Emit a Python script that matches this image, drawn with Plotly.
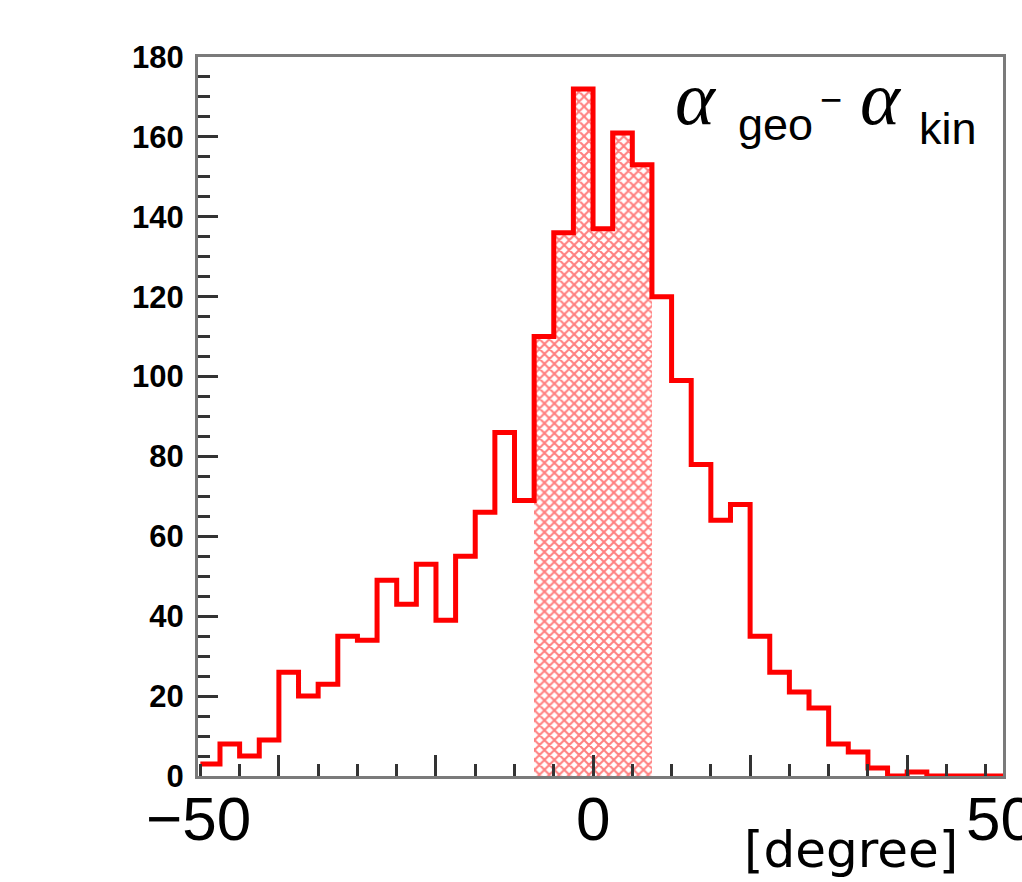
import plotly.graph_objects as go

# Histogram data: bins of width 2.5 degrees starting at -50
bin_start = -50.0
bin_width = 2.5
counts = [3, 8, 5, 9, 26, 20, 23, 35, 34, 49, 43, 53, 39, 55, 66, 86, 69,
          110, 136, 172, 137, 161, 153, 120, 99, 78, 64, 68, 35, 26, 21, 17,
          8, 6, 2, 0, 1, 0, 0, 0, 0]
hatch_lo, hatch_hi = -7.5, 7.5   # hatched (selected) region

x_labels = ["\u221250", "0", "50"]
x_label_vals = [-50, 0, 50]
y_ticks = [0, 20, 40, 60, 80, 100, 120, 140, 160, 180]

edges = [bin_start + i * bin_width for i in range(len(counts) + 1)]
centers = [bin_start + (i + 0.5) * bin_width for i in range(len(counts))]

# plot area in pixels
L, R, T, B = 198, 1003, 57, 776
W, H = 1022, 882
xr = [-50.3, 52.2]

def px(xp):
    return (xp - L) / (R - L)

def py(yp):
    return (B - yp) / (B - T)

fig = go.Figure()

hx = [c for c in centers if hatch_lo < c < hatch_hi]
hy = [counts[i] for i, c in enumerate(centers) if hatch_lo < c < hatch_hi]
fig.add_trace(go.Bar(
    x=hx, y=hy, width=bin_width,
    marker=dict(color="white", line=dict(width=0),
                pattern=dict(shape="x", fgcolor="#ff0000", bgcolor="white",
                             size=7, solidity=0.5)),
    showlegend=False, hoverinfo="skip"))

fig.add_trace(go.Scatter(
    x=edges, y=counts + [counts[-1]], mode="lines",
    line=dict(color="#ff0000", width=5, shape="hv"),
    showlegend=False))

axis_common = dict(showgrid=False, zeroline=False, showline=True, mirror=True,
                   linecolor="#7a7a7a", linewidth=3, ticks="inside",
                   tickcolor="#333333", tickwidth=3)

fig.update_xaxes(range=xr, tick0=0, dtick=20, ticklen=21, showticklabels=False,
                 minor=dict(dtick=5, tick0=0, ticks="inside", ticklen=12,
                            tickwidth=3, tickcolor="#333333"),
                 **axis_common)
fig.update_yaxes(range=[0, 180], tickvals=y_ticks, ticklen=20,
                 tickfont=dict(family="Liberation Sans", size=31, color="black",
                               weight="bold"),
                 ticklabelstandoff=5,
                 minor=dict(dtick=5, tick0=0, ticks="inside", ticklen=12,
                            tickwidth=3, tickcolor="#333333"),
                 **axis_common)

ann = []
num_font = dict(family="Liberation Sans", size=62, color="black")
x_label_px = [198, 593, 1000]
for t, xp in zip(x_labels, x_label_px):
    ann.append(dict(text=t, x=px(xp), y=py(818), xref="paper", yref="paper",
                    showarrow=False, xanchor="center", yanchor="middle", font=num_font))
ann.append(dict(text="[degree]", x=px(851), y=py(850), xref="paper", yref="paper",
                showarrow=False, xanchor="center", yanchor="middle",
                font=dict(family="DejaVu Sans", size=50, color="black")))

alpha_font = dict(family="Liberation Serif", size=76, color="black", style="italic")
sub_font = dict(family="Liberation Sans", size=45, color="black")
ann.append(dict(text="\u03b1", x=px(696), y=py(98), xref="paper", yref="paper",
                showarrow=False, xanchor="center", yanchor="middle", font=alpha_font))
ann.append(dict(text="geo", x=px(775), y=py(125), xref="paper", yref="paper",
                showarrow=False, xanchor="center", yanchor="middle", font=sub_font))
ann.append(dict(text="\u2212", x=px(831), y=py(100), xref="paper", yref="paper",
                showarrow=False, xanchor="center", yanchor="middle",
                font=dict(family="Liberation Sans", size=38, color="black")))
ann.append(dict(text="\u03b1", x=px(881), y=py(98), xref="paper", yref="paper",
                showarrow=False, xanchor="center", yanchor="middle", font=alpha_font))
ann.append(dict(text="kin", x=px(948), y=py(128), xref="paper", yref="paper",
                showarrow=False, xanchor="center", yanchor="middle", font=sub_font))

fig.update_layout(
    width=W, height=H,
    margin=dict(l=L, r=W - R, t=T, b=H - B),
    plot_bgcolor="white", paper_bgcolor="white",
    bargap=0, annotations=ann, showlegend=False)

fig.write_html("out.html")
